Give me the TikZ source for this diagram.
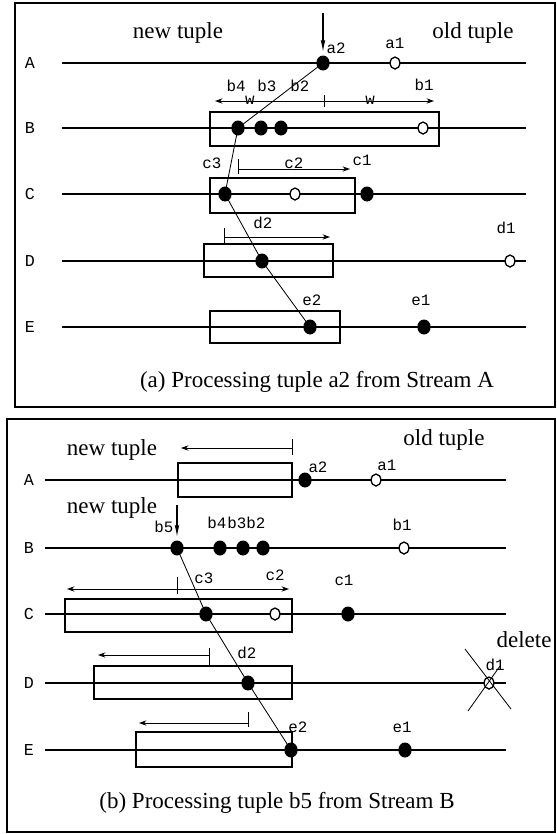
\documentclass[tikz,border=0pt]{standalone}
\usepackage{fontspec}
\setmainfont{Liberation Serif}
\newfontfamily\ptfont{Liberation Mono}
\usetikzlibrary{arrows.meta,shapes.geometric}
\tikzset{
  dot/.style={ellipse, fill, inner sep=0pt, minimum width=8pt, minimum height=9pt},
  hollow/.style={ellipse, draw, fill=white, line width=0.8pt, inner sep=0pt, minimum width=5.8pt, minimum height=7.2pt},
  stream/.style={line width=0.9pt},
  winbox/.style={draw, line width=0.9pt},
  trace/.style={line width=0.5pt},
  win/.style={line width=0.6pt, -{Stealth[length=4.5pt,width=3.2pt]}},
  newin/.style={line width=0.7pt, -{Latex[length=7pt,width=2.8pt]}},
  tick/.style={line width=0.6pt},
  ptlbl/.style={font=\ptfont\fontsize{9.5}{10}\selectfont, inner sep=0pt},
  rowlbl/.style={font=\ptfont\fontsize{10}{10}\selectfont, inner sep=0pt},
  title/.style={font=\fontsize{13.8}{15}\selectfont, inner sep=0pt},
}
\begin{document}
\begin{tikzpicture}[x=0.6pt, y=-0.6pt]
\useasboundingbox (0,0) rectangle (557,834);

% ===== (a) tuple a2 arrives on stream A =====
\draw[line width=1.1pt] (15,3) rectangle (555,407);
\foreach \r/\y in {A/63,B/128,C/194,D/261,E/327} {
  \node[rowlbl] (urow\r) at (30,\y) {\r};
  \draw[stream] (62,\y) -- (526,\y);
}
% windows
\draw[winbox] (210,112) rectangle (439,146);
\draw[winbox] (210,178) rectangle (355,213);
\draw[winbox] (204,244) rectangle (333,277);
\draw[winbox] (210,311) rectangle (340,343);

% tuples
\node[dot] (ua2) at (323,63) {};
\node[hollow] (ua1) at (395,63) {};
\node[dot] (ub4) at (238,128) {};
\node[dot] (ub3) at (261,128) {};
\node[dot] (ub2) at (281,128) {};
\node[hollow] (ub1) at (423,128) {};
\node[dot] (uc3) at (225,194) {};
\node[hollow] (uc2) at (295,194) {};
\node[dot] (uc1) at (367,194) {};
\node[dot] (ud2) at (262,261) {};
\node[hollow] (ud1) at (510,261) {};
\node[dot] (ue2) at (310,327) {};
\node[dot] (ue1) at (424,327) {};

% probing path
\draw[trace] (ua2.center) -- (ub4.center) -- (uc3.center) -- (ud2.center) -- (ue2.center);

% arriving tuple
\coordinate (uin) at (323,13);
\coordinate (uinend) at (323,52);
\draw[newin] (uin) -- (uinend);

% window extents
\coordinate (uwm) at (324,101);
\coordinate (uwl) at (215,101);
\coordinate (uwr) at (434,101);
\draw[win] (uwm) -- (uwl);
\draw[win] (uwm) -- (uwr);
\draw[tick] (324,95) -- (324,107);
\coordinate (ucs) at (238,169);
\coordinate (uce) at (350,169);
\draw[win] (ucs) -- (uce);
\draw[tick] (238,159) -- (238,174);
\coordinate (uds) at (224,237);
\coordinate (ude) at (330,237);
\draw[win] (uds) -- (ude);
\draw[tick] (224,228) -- (224,243);

% labels
\node[title] (unew) at (178,33) {new tuple};
\node[title] (uold) at (473,33) {old tuple};
\node[ptlbl] (la2a) at (336,48) {a2};
\node[ptlbl] (la1a) at (395,43) {a1};
\node[ptlbl] (lb4a) at (236,86) {b4};
\node[ptlbl] (lb3a) at (267,86) {b3};
\node[ptlbl] (lb2a) at (300,86) {b2};
\node[ptlbl] (lb1a) at (424,85) {b1};
\node[ptlbl] (lw1) at (250,100) {w};
\node[ptlbl] (lw2) at (370,100) {w};
\node[ptlbl] (lc3a) at (212,163) {c3};
\node[ptlbl] (lc2a) at (294,163) {c2};
\node[ptlbl] (lc1a) at (362,160) {c1};
\node[ptlbl] (ld2a) at (263,223) {d2};
\node[ptlbl] (ld1a) at (506,228) {d1};
\node[ptlbl] (le2a) at (312,300) {e2};
\node[ptlbl] (le1a) at (421,300) {e1};
\node[title] (ucap) at (317,382) {(a) Processing tuple a2 from Stream A};

% ===== (b) tuple b5 arrives on stream B =====
\draw[line width=1.1pt] (7,419) rectangle (555,832);
\foreach \r/\y in {A/480,B/548,C/614,D/683,E/750} {
  \node[rowlbl] (lrow\r) at (29,\y) {\r};
  \draw[stream] (45,\y) -- (506,\y);
}
% windows
\draw[winbox] (178,463) rectangle (292,497);
\draw[winbox] (65,599) rectangle (292,632);
\draw[winbox] (94,666) rectangle (292,699);
\draw[winbox] (136,732) rectangle (292,767);

% tuples
\node[dot] (la2) at (305,480) {};
\node[hollow] (la1) at (376,480) {};
\node[dot] (lb5) at (177,548) {};
\node[dot] (lb4) at (220,548) {};
\node[dot] (lb3) at (243,548) {};
\node[dot] (lb2) at (263,548) {};
\node[hollow] (lb1) at (404,548) {};
\node[dot] (lc3) at (206,614) {};
\node[hollow] (lc2) at (275,614) {};
\node[dot] (lc1) at (348,614) {};
\node[dot] (ld2) at (248,683) {};
\node[hollow] (ld1) at (489,683) {};
\node[dot] (le2) at (291,750) {};
\node[dot] (le1) at (405,750) {};

% probing path
\draw[trace] (lb5.center) -- (lc3.center) -- (ld2.center) -- (le2.center);

% arriving tuple
\coordinate (lin) at (177,505);
\coordinate (linend) at (177,537);
\draw[newin] (lin) -- (linend);

% window extents
\coordinate (las) at (292,448);
\coordinate (lae) at (181,448);
\draw[win] (las) -- (lae);
\draw[tick] (292,439) -- (292,455);
\coordinate (lcm) at (177,589);
\coordinate (lcl) at (67,589);
\coordinate (lcr) at (289,589);
\draw[win] (lcm) -- (lcl);
\draw[win] (lcm) -- (lcr);
\draw[tick] (177,577) -- (177,594);
\coordinate (lds) at (209,655);
\coordinate (lde) at (98,655);
\draw[win] (lds) -- (lde);
\draw[tick] (209,648) -- (209,666);
\coordinate (les) at (248,723);
\coordinate (lee) at (139,723);
\draw[win] (les) -- (lee);
\draw[tick] (248,712) -- (248,727);

% expired tuple d1
\draw[line width=0.5pt] (465,649) -- (511,709);
\draw[line width=0.5pt] (468,711) -- (500,666);

% labels
\node[title] (lnew1) at (112,450) {new tuple};
\node[title] (lnew2) at (112,508) {new tuple};
\node[title] (lold) at (444,440) {old tuple};
\node[ptlbl] (la2b) at (318,467) {a2};
\node[ptlbl] (la1b) at (387,465) {a1};
\node[ptlbl] (lb5b) at (164,527) {b5};
\node[ptlbl] (lb4b) at (217,523) {b4};
\node[ptlbl] (lb3b) at (237,523) {b3};
\node[ptlbl] (lb2b) at (256,523) {b2};
\node[ptlbl] (lb1b) at (402,525) {b1};
\node[ptlbl] (lc3b) at (204,578) {c3};
\node[ptlbl] (lc2b) at (275,575) {c2};
\node[ptlbl] (lc1b) at (344,580) {c1};
\node[ptlbl] (ld2b) at (247,653) {d2};
\node[ptlbl] (ld1b) at (495,665) {d1};
\node[title] (ldel) at (524,640) {delete};
\node[ptlbl] (le2b) at (298,727) {e2};
\node[ptlbl] (le1b) at (402,727) {e1};
\node[title] (lcap) at (277,803) {(b) Processing tuple b5 from Stream B};
\end{tikzpicture}
\end{document}
